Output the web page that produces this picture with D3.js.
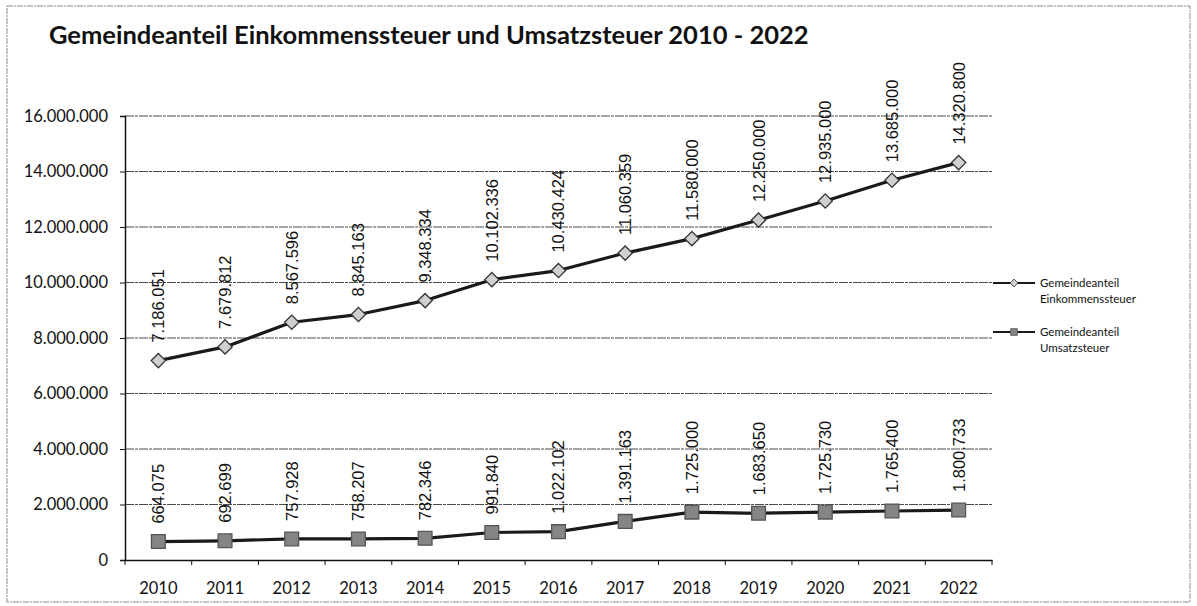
<!DOCTYPE html>
<html>
<head>
<meta charset="utf-8">
<script src="https://cdn.jsdelivr.net/npm/d3@7"></script>
<style>
  html, body { margin: 0; padding: 0; background: #fff; }
  svg { display: block; }
</style>
</head>
<body>
<svg id="chart"></svg>
<script>
// values
const years = ['2010', '2011', '2012', '2013', '2014', '2015', '2016', '2017', '2018', '2019', '2020', '2021', '2022'];
const einkommen = [7186051, 7679812, 8567596, 8845163, 9348334, 10102336, 10430424, 11060359, 11580000, 12250000, 12935000, 13685000, 14320800];
const umsatz = [664075, 692699, 757928, 758207, 782346, 991840, 1022102, 1391163, 1725000, 1683650, 1725730, 1765400, 1800733];
const yTicks = [0, 2000000, 4000000, 6000000, 8000000, 10000000, 12000000, 14000000, 16000000];
const seriesNames = [['Gemeindeanteil', 'Einkommenssteuer'], ['Gemeindeanteil', 'Umsatzsteuer']];
const title = 'Gemeindeanteil Einkommenssteuer und Umsatzsteuer 2010 - 2022';

const width = 1197, height = 606;
const marginLeft = 125, marginRight = 205, marginTop = 116, marginBottom = 46;

const de = d3.formatLocale({ decimal: ',', thousands: '.', grouping: [3], currency: ['', ' €'] });
const fmt = de.format(',d');

const svg = d3.select('#chart')
  .attr('width', width)
  .attr('height', height)
  .attr('viewBox', [0, 0, width, height]);

// scanned frame
svg.append('rect')
  .attr('x', 7).attr('y', 6)
  .attr('width', 1183).attr('height', 596)
  .attr('fill', 'none')
  .attr('stroke', '#8a8a8a')
  .attr('stroke-dasharray', '6,1,2,1');

const x = d3.scaleBand()
  .domain(years)
  .range([marginLeft, width - marginRight]);

const y = d3.scaleLinear()
  .domain([0, 16000000])
  .range([height - marginBottom, marginTop]);

const cx = (d) => x(d) + x.bandwidth() / 2;

// title
svg.append('text')
  .attr('x', 49).attr('y', 44)
  .attr('font-family', 'Lato, "Open Sans", sans-serif')
  .attr('font-weight', 'bold')
  .attr('font-size', 25.5)
  .attr('fill', '#111')
  .text(title);

// gridlines
svg.append('g')
  .selectAll('line')
  .data(yTicks.slice(1))
  .join('line')
  .attr('x1', marginLeft).attr('x2', width - marginRight)
  .attr('y1', (d) => y(d)).attr('y2', (d) => y(d))
  .attr('stroke', '#4a4a4a')
  .attr('stroke-width', 1)
  .attr('stroke-dasharray', '9,1,3,1');

// y axis
const yAxis = svg.append('g')
  .attr('transform', `translate(${marginLeft},0)`)
  .call(d3.axisLeft(y).tickValues(yTicks).tickFormat(fmt).tickSize(5).tickPadding(12));
yAxis.select('.domain').attr('stroke', '#111').attr('stroke-width', 1.5);
yAxis.selectAll('.tick line').attr('stroke', '#111');
yAxis.selectAll('text')
  .attr('font-family', 'Lato, "Open Sans", sans-serif')
  .attr('font-size', 16.5)
  .attr('fill', '#111');

// x axis, ticks on the category boundaries
const xAxis = svg.append('g')
  .attr('transform', `translate(0,${height - marginBottom})`)
  .call(d3.axisBottom(x).tickSize(0).tickPadding(22));
xAxis.select('.domain').attr('stroke', '#111').attr('stroke-width', 1.5);
xAxis.selectAll('text')
  .attr('font-family', 'Lato, "Open Sans", sans-serif')
  .attr('font-size', 16.5)
  .attr('fill', '#111');
xAxis.append('g')
  .selectAll('line')
  .data(years.concat(['end']))
  .join('line')
  .attr('x1', (d, i) => i < years.length ? x(d) : x(years[years.length - 1]) + x.bandwidth())
  .attr('x2', (d, i) => i < years.length ? x(d) : x(years[years.length - 1]) + x.bandwidth())
  .attr('y1', 0).attr('y2', 5)
  .attr('stroke', '#111');

const line = d3.line()
  .x((d, i) => cx(years[i]))
  .y((d) => y(d));

const diamond = d3.symbol().type(d3.symbolDiamond2);
const square = d3.symbol().type(d3.symbolSquare);

function drawSeries(values, sym, size, fill, stroke) {
  const g = svg.append('g');
  g.append('path')
    .datum(values)
    .attr('d', line)
    .attr('fill', 'none')
    .attr('stroke', '#1a1a1a')
    .attr('stroke-width', 3.2)
    .attr('stroke-linejoin', 'round');
  g.selectAll('path.marker')
    .data(values)
    .join('path')
    .attr('class', 'marker')
    .attr('transform', (d, i) => `translate(${cx(years[i])},${y(d)})`)
    .attr('d', sym.size(size)())
    .attr('fill', fill)
    .attr('stroke', stroke)
    .attr('stroke-width', 1.3);
  g.selectAll('text')
    .data(values)
    .join('text')
    .attr('transform', (d, i) => `translate(${cx(years[i])},${y(d) - 18}) rotate(-90)`)
    .attr('dy', '0.36em')
    .attr('font-family', '"Liberation Sans", Arial, sans-serif')
    .attr('font-size', 16.5)
    .attr('fill', '#111')
    .text((d) => fmt(d));
}

drawSeries(einkommen, diamond, 130, '#d0d0d0', '#333');
drawSeries(umsatz, square, 190, '#858585', '#555');

// legend
const legend = svg.append('g');
const legendRows = [
  { y: 283, sym: diamond, size: 40, fill: '#d0d0d0', stroke: '#333' },
  { y: 332, sym: square, size: 45, fill: '#858585', stroke: '#555' },
];
legendRows.forEach((r, i) => {
  legend.append('line')
    .attr('x1', 993).attr('x2', 1035)
    .attr('y1', r.y).attr('y2', r.y)
    .attr('stroke', '#1a1a1a').attr('stroke-width', 2);
  legend.append('path')
    .attr('transform', `translate(1014,${r.y})`)
    .attr('d', r.sym.size(r.size)())
    .attr('fill', r.fill).attr('stroke', r.stroke).attr('stroke-width', 0.8);
  legend.append('text')
    .attr('x', 1040).attr('y', r.y)
    .attr('font-family', 'Lato, "Open Sans", sans-serif')
    .attr('font-size', 11.5)
    .attr('fill', '#111')
    .selectAll('tspan')
    .data(seriesNames[i])
    .join('tspan')
    .attr('x', 1040)
    .attr('dy', (d, j) => j === 0 ? '0.35em' : 16)
    .text((d) => d);
});
</script>
</body>
</html>
